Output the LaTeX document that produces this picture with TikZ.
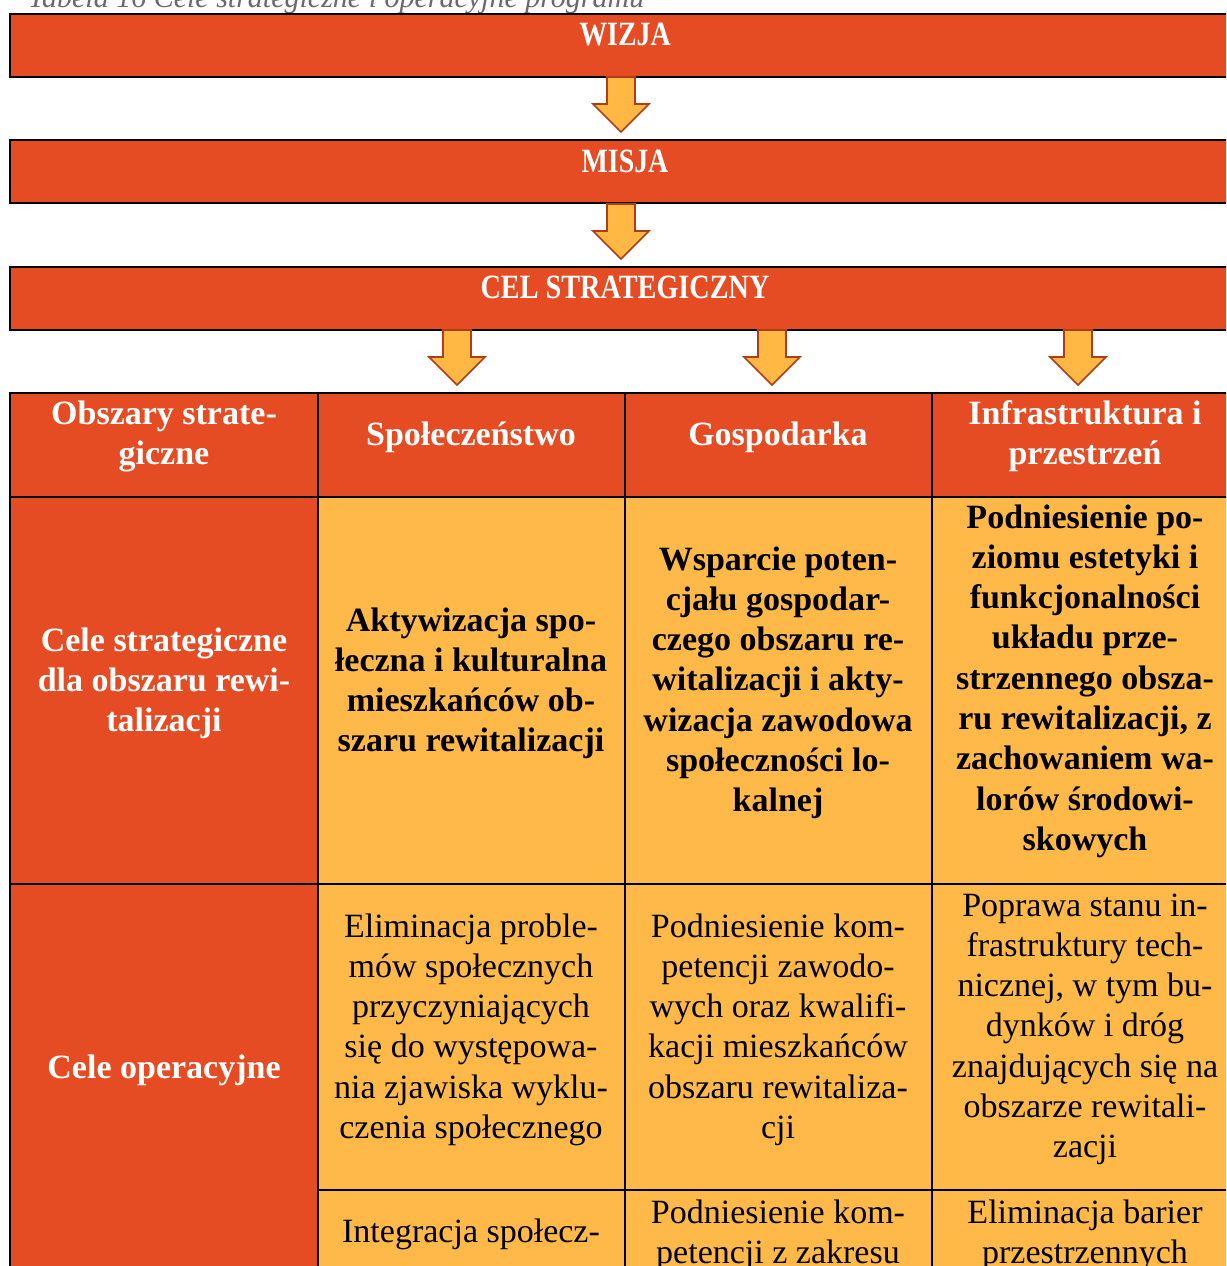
\documentclass[tikz,border=0pt]{standalone}
\usepackage{fontspec}
\usepackage{graphicx}
\setmainfont{Liberation Serif}
\definecolor{redorange}{HTML}{E64C23}
\definecolor{lightorange}{HTML}{FEB948}
\definecolor{arrowfill}{HTML}{FFB843}
\definecolor{arrowline}{HTML}{B23C16}
\definecolor{captiongray}{HTML}{6A6A6A}
\tikzset{
  barbox/.style={fill=redorange, draw=black, line width=2.2pt},
  gridline/.style={draw=black, line width=2.2pt},
  whitebold/.style={font=\fontsize{34}{40.5}\selectfont\bfseries, text=white, anchor=base, inner sep=0pt},
  blackbold/.style={font=\fontsize{34}{40.5}\selectfont\bfseries, text=black, anchor=base, inner sep=0pt},
  plaintext/.style={font=\fontsize{34}{40.5}\selectfont, text=black, anchor=base, inner sep=0pt},
  downarrow/.style={fill=arrowfill, draw=arrowline, line width=1.6pt, line join=miter},
}
\newcommand\celllines[5]{%
  \foreach \ln [count=\k] in {#5} {\node[#2] (#1-\k) at (#3, #4+40.3*\k-40.3) {\ln};}}
\newcommand\blockarrow[3]{%
  \draw[downarrow] (#2-14,#3) -- (#2+14,#3) -- (#2+14,#3+27) -- (#2+28,#3+27) -- (#2,#3+55)
    -- (#2-28,#3+27) -- (#2-14,#3+27) -- cycle;
  \coordinate (#1) at (#2,#3+55);}
\begin{document}
\begin{tikzpicture}[x=1pt, y=-1pt]
\useasboundingbox (0,0) rectangle (1226,1266);
\clip (0,0) rectangle (1226,1266);
% caption
\node[font=\fontsize{30}{36}\selectfont\itshape, text=captiongray, anchor=base west, inner sep=0pt] (caption) at (28,7.5) {Tabela 16 Cele strategiczne i operacyjne programu};
% bars
\draw[barbox] (10,14) rectangle (1240,77);
\node[whitebold] (wizja) at (625,45) {\scalebox{0.82}[1]{WIZJA}};
\draw[barbox] (10,140) rectangle (1240,203);
\node[whitebold] (misja) at (625,172) {\scalebox{0.82}[1]{MISJA}};
\draw[barbox] (10,267) rectangle (1240,330);
\node[whitebold] (cel) at (625,298) {\scalebox{0.83}[1]{CEL STRATEGICZNY}};
% arrows
\blockarrow{arr1}{621}{77}
\blockarrow{arr2}{621}{204}
\blockarrow{arr3}{457}{330}
\blockarrow{arr4}{772}{330}
\blockarrow{arr5}{1078}{330}
% table fills
\fill[redorange] (10,393) rectangle (1240,497);
\fill[redorange] (10,497) rectangle (318,1280);
\fill[lightorange] (318,497) rectangle (1240,1280);
% grid
\draw[gridline] (10,393) -- (1240,393);
\draw[gridline] (10,497) -- (1240,497);
\draw[gridline] (10,884) -- (1240,884);
\draw[gridline] (318,1190) -- (1240,1190);
\foreach \xx in {10,318,625,932} {\draw[gridline] (\xx,392) -- (\xx,1280);}
% header row
\celllines{h1}{whitebold}{164}{424}{{Obszary strate-},{giczne}}
\celllines{h2}{whitebold}{471}{445}{{Społeczeństwo}}
\celllines{h3}{whitebold}{778}{445}{{Gospodarka}}
\celllines{h4}{whitebold}{1085}{424}{{Infrastruktura i},{przestrzeń}}
% row 2
\celllines{s1}{whitebold}{164}{651}{{Cele strategiczne},{dla obszaru rewi-},{talizacji}}
\celllines{s2}{blackbold}{471}{631}{{Aktywizacja spo-},{łeczna i kulturalna},{mieszkańców ob-},{szaru rewitalizacji}}
\celllines{s3}{blackbold}{778}{570}{{Wsparcie poten-},{cjału gospodar-},{czego obszaru re-},{witalizacji i akty-},{wizacja zawodowa},{społeczności lo-},{kalnej}}
\celllines{s4}{blackbold}{1085}{528}{{Podniesienie po-},{ziomu estetyki i},{funkcjonalności},{układu prze-},{strzennego obsza-},{ru rewitalizacji, z},{zachowaniem wa-},{lorów środowi-},{skowych}}
% row 3
\celllines{o1}{whitebold}{164}{1078}{{Cele operacyjne}}
\celllines{o2}{plaintext}{471}{937}{{Eliminacja proble-},{mów społecznych},{przyczyniających},{się do występowa-},{nia zjawiska wyklu-},{czenia społecznego}}
\celllines{o3}{plaintext}{778}{937}{{Podniesienie kom-},{petencji zawodo-},{wych oraz kwalifi-},{kacji mieszkańców},{obszaru rewitaliza-},{cji}}
\celllines{o4}{plaintext}{1085}{916}{{Poprawa stanu in-},{frastruktury tech-},{nicznej, w tym bu-},{dynków i dróg},{znajdujących się na},{obszarze rewitali-},{zacji}}
% row 4
\celllines{p2}{plaintext}{471}{1242}{{Integracja społecz-}}
\celllines{p3}{plaintext}{778}{1223}{{Podniesienie kom-},{petencji z zakresu}}
\celllines{p4}{plaintext}{1085}{1223}{{Eliminacja barier},{przestrzennych}}
\end{tikzpicture}
\end{document}
